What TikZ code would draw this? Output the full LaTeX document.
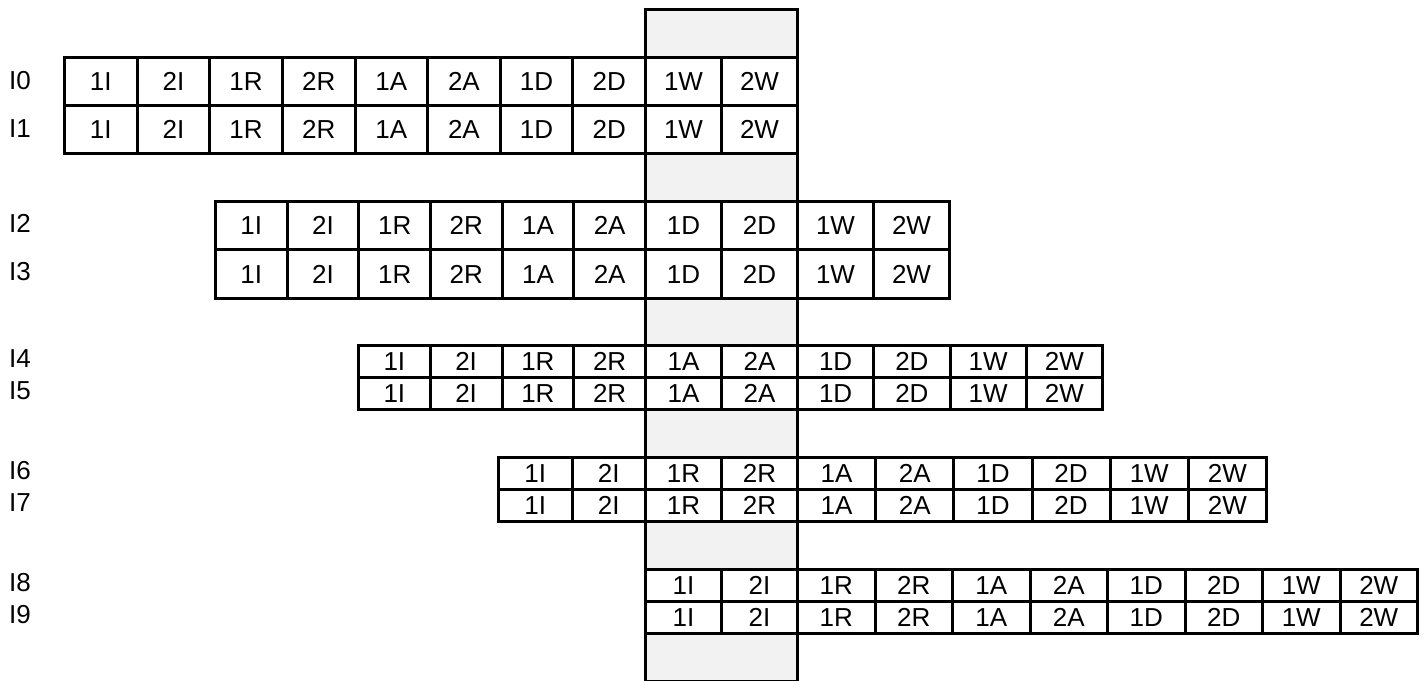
\documentclass[tikz,border=0pt]{standalone}
\usepackage{fontspec}
\setmainfont{Liberation Sans}
\definecolor{colgray}{HTML}{F2F2F2}
\newcommand\cellrow[6]{% #1 prefix, #2 left, #3 right, #4 ytop, #5 ybot, #6 nleft
  \pgfmathsetmacro\nl{#6}
  \pgfmathsetmacro\nr{8-#6}
  \pgfmathsetmacro\wl{(644-#2)/max(\nl,1)}
  \pgfmathsetmacro\wr{(#3-796)/max(\nr,1)}
  \pgfmathsetmacro\hh{#5-#4}
  \foreach \lab [count=\i from 0] in {1I,2I,1R,2R,1A,2A,1D,2D,1W,2W} {
    \pgfmathsetmacro\xa{\i<\nl ? #2+\i*\wl : ((\i<\nl+2) ? 644+(\i-\nl)*76 : 796+(\i-\nl-2)*\wr)}
    \pgfmathsetmacro\ww{\i<\nl ? \wl : ((\i<\nl+2) ? 76 : \wr)}
    \node[cellbox, minimum width=\ww bp, minimum height=\hh bp, anchor=north west] (#1-\i) at (\xa,#4) {\lab};
  }
}
\begin{document}
\begin{tikzpicture}[x=1bp,y=-1bp,
  txt/.style={font=\fontsize{26bp}{30bp}\selectfont, text height=18.6bp, text depth=0pt},
  cellbox/.style={txt, draw, fill=white, line width=3bp, inner sep=0pt},
  rowlab/.style={txt, anchor=west, inner sep=0pt},
  column/.style={draw, fill=colgray, line width=3bp, inner sep=0pt, anchor=north west}]
\useasboundingbox (0,0) rectangle (1424,681);
\node[column, minimum width=152bp, minimum height=672bp] (col) at (644,8) {};
% group 1
\cellrow{r0}{63}{796}{56}{104}{8}
\cellrow{r1}{63}{796}{104}{152}{8}
% group 2
\cellrow{r2}{214}{948}{200}{248}{6}
\cellrow{r3}{214}{948}{248}{297}{6}
% group 3
\cellrow{r4}{357}{1101}{344}{376}{4}
\cellrow{r5}{357}{1101}{376}{408}{4}
% group 4
\cellrow{r6}{497}{1265}{456}{488}{2}
\cellrow{r7}{497}{1265}{488}{520}{2}
% group 5
\cellrow{r8}{644}{1416}{568}{600}{0}
\cellrow{r9}{644}{1416}{600}{632}{0}
% labels
\node[rowlab] (l0) at (9,80) {I0};
\node[rowlab] (l1) at (9,128) {I1};
\node[rowlab] (l2) at (9,223) {I2};
\node[rowlab] (l3) at (9,271) {I3};
\node[rowlab] (l4) at (9,358) {I4};
\node[rowlab] (l5) at (9,390) {I5};
\node[rowlab] (l6) at (9,470) {I6};
\node[rowlab] (l7) at (9,502) {I7};
\node[rowlab] (l8) at (9,582) {I8};
\node[rowlab] (l9) at (9,614) {I9};
\end{tikzpicture}
\end{document}
